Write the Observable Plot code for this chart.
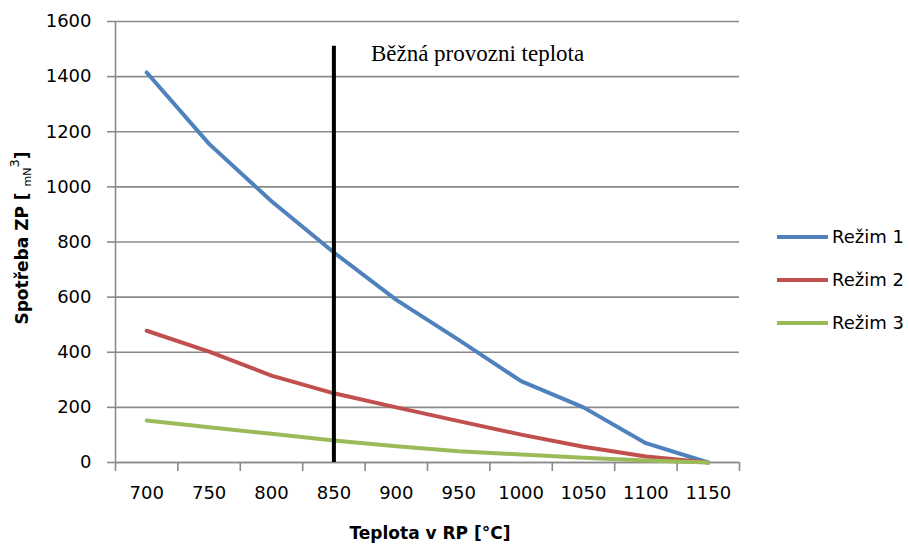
<!DOCTYPE html>
<html>
<head>
<meta charset="utf-8">
<script src="https://cdn.jsdelivr.net/npm/d3@7"></script>
<script src="https://cdn.jsdelivr.net/npm/@observablehq/plot@0.6"></script>
<style>
  html, body { margin: 0; padding: 0; background: #fff; }
  #chart svg { display: block; }
</style>
</head>
<body>
<div id="chart"></div>
<script>
// ---- data ----
const temperatures = [700, 750, 800, 850, 900, 950, 1000, 1050, 1100, 1150];
const rezim1 = [1415, 1156, 948, 762, 590, 445, 295, 200, 70, 0];
const rezim2 = [478, 402, 315, 251, 200, 150, 101, 57, 22, 0];
const rezim3 = [152, 128, 104, 80, 59, 41, 29, 17, 7, 0];
const seriesNames = ["Režim 1", "Režim 2", "Režim 3"];
const seriesColors = ["#4F81BD", "#C0504D", "#9BBB59"];
const yTicks = [0, 200, 400, 600, 800, 1000, 1200, 1400, 1600];
const markerTemp = 850;
const markerTop = 1510;
const markerLabel = "Běžná provozni teplota";
const xTitle = "Teplota v RP [°C]";
const yTitleMain = "Spotřeba ZP [";

// category step and boundaries (Excel-style category axis)
const step = temperatures[1] - temperatures[0];
const xDomain = [temperatures[0] - step / 2, temperatures[temperatures.length - 1] + step / 2];
const boundaryTicks = temperatures.map(t => t - step / 2).concat([xDomain[1]]);

const allSeries = [rezim1, rezim2, rezim3];
const rows = [];
allSeries.forEach((vals, si) => {
  vals.forEach((v, i) => rows.push({series: seriesNames[si], t: temperatures[i], v}));
});

const W = 909, H = 544;
const gridColor = "#8a8a8a";
const font = "DejaVu Sans";

const plot = Plot.plot({
  width: W,
  height: H,
  marginLeft: 115,
  marginRight: 170,
  marginTop: 21,
  marginBottom: 82,
  style: {fontFamily: font, fontSize: "18px", color: "#000", background: "#fff", overflow: "visible"},
  x: {domain: xDomain},
  y: {domain: [yTicks[0], yTicks[yTicks.length - 1]]},
  color: {domain: seriesNames, range: seriesColors},
  marks: [
    Plot.gridY(yTicks, {stroke: gridColor, strokeOpacity: 1, strokeWidth: 1.6}),
    Plot.axisY(yTicks, {tickSize: 8, tickPadding: 16, tickFormat: d => String(d), stroke: gridColor, strokeWidth: 1.6, label: null, fill: "#000", fontSize: 18}),
    Plot.ruleX([xDomain[0]], {stroke: gridColor, strokeWidth: 1.6}),
    Plot.ruleY([yTicks[0]], {stroke: gridColor, strokeWidth: 1.6}),
    Plot.axisX(boundaryTicks, {tickSize: 9, tickFormat: () => "", stroke: gridColor, strokeWidth: 1.6, label: null}),
    Plot.axisX(temperatures, {tickSize: 0, tickPadding: 24, tickFormat: d => String(d), label: null, fill: "#000", fontSize: 18}),
    Plot.line(rows, {x: "t", y: "v", z: "series", stroke: "series", strokeWidth: 4, strokeLinejoin: "round", strokeLinecap: "round"}),
    Plot.ruleX([markerTemp], {y1: 0, y2: markerTop, stroke: "#000", strokeWidth: 4}),
    Plot.text([markerLabel], {x: markerTemp, y: markerTop, text: d => d, dx: 37, dy: -2, lineAnchor: "top", textAnchor: "start", fontFamily: "Liberation Serif", fontSize: 23, fill: "#000"})
  ]
});

document.getElementById("chart").appendChild(plot);

// ---- axis titles and legend (text added to the same SVG) ----
const svg = d3.select(plot);

// y axis title with subscript / superscript
const yt = svg.append("text")
  .attr("transform", "translate(28,238) rotate(-90)")
  .attr("text-anchor", "middle")
  .attr("font-family", font)
  .attr("font-weight", "bold")
  .attr("font-size", 17)
  .attr("fill", "#000");
yt.append("tspan").text(yTitleMain + " ");
yt.append("tspan").attr("font-size", 11).attr("dy", 3).attr("font-weight", "normal").text("mN");
yt.append("tspan").attr("font-size", 13).attr("dy", -12).attr("font-weight", "normal").text("3");
yt.append("tspan").attr("dy", 9).text("]");

// x axis title
svg.append("text")
  .attr("x", 430).attr("y", 539)
  .attr("text-anchor", "middle")
  .attr("font-family", font)
  .attr("font-weight", "bold")
  .attr("font-size", 17)
  .attr("fill", "#000")
  .text(xTitle);

// legend
const lg = svg.append("g").attr("font-family", font).attr("font-size", 18);
seriesNames.forEach((name, i) => {
  const y = 237 + i * 43;
  lg.append("line").attr("x1", 777).attr("x2", 828).attr("y1", y).attr("y2", y)
    .attr("stroke", seriesColors[i]).attr("stroke-width", 4);
  lg.append("text").attr("x", 832).attr("y", y).attr("dy", "0.35em")
    .attr("text-anchor", "start").attr("fill", "#000").text(name);
});
</script>
</body>
</html>
